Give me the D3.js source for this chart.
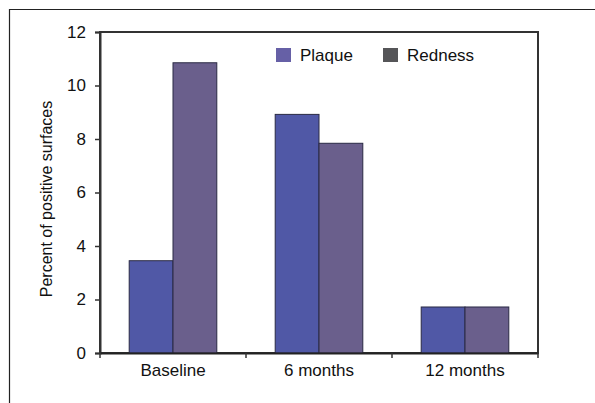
<!DOCTYPE html>
<html><head><meta charset="utf-8">
<script src="https://cdn.jsdelivr.net/npm/d3@7"></script>
<style>body{margin:0;background:#fff}svg{display:block}text{font-family:"Liberation Sans",Arial,sans-serif;fill:#111}</style>
</head><body>
<script>
const categories = ["Baseline", "6 months", "12 months"];
const seriesNames = ["Plaque", "Redness"];
const plaque = [3.45, 8.92, 1.72];
const redness = [10.85, 7.84, 1.72];
const yTicks = [0, 2, 4, 6, 8, 10, 12];

const W = 595, H = 403;
const m = {l: 100, r: 57, t: 32, b: 50};
const svg = d3.select("body").append("svg").attr("width", W).attr("height", H);

// outer frame
svg.append("path").attr("d", `M9.5,${H} L9.5,9.5 L${W},9.5`).attr("fill", "none").attr("stroke", "#222").attr("stroke-width", 1.2);

const x0 = d3.scaleBand().domain(categories).range([m.l, W - m.r]).paddingInner(0.4).paddingOuter(0.2);
const x1 = d3.scaleBand().domain(seriesNames).range([0, x0.bandwidth()]);
const y = d3.scaleLinear().domain([0, 12]).range([H - m.b, m.t]);
const colors = {Plaque: "#5058a6", Redness: "#6a5f8c"};
const legendColors = {Plaque: "#6660a6", Redness: "#555558"};

// plot frame (right & top)
svg.append("rect").attr("x", m.l).attr("y", m.t).attr("width", W - m.r - m.l).attr("height", H - m.b - m.t)
  .attr("fill", "none").attr("stroke", "#333").attr("stroke-width", 2);

const data = categories.map((c, i) => ({c, vals: [{s: "Plaque", v: plaque[i]}, {s: "Redness", v: redness[i]}]}));
const g = svg.append("g").selectAll("g").data(data).join("g").attr("transform", d => `translate(${x0(d.c)},0)`);
g.selectAll("rect").data(d => d.vals).join("rect")
  .attr("x", d => x1(d.s)).attr("width", x1.bandwidth())
  .attr("y", d => y(d.v)).attr("height", d => y(0) - y(d.v))
  .attr("fill", d => colors[d.s]).attr("stroke", "#2a2a44").attr("stroke-width", 1);

// y axis
const ya = svg.append("g").attr("transform", `translate(${m.l},0)`)
  .call(d3.axisLeft(y).tickValues(yTicks).tickSize(5).tickPadding(9));
ya.select(".domain").attr("stroke", "#333").attr("stroke-width", 2);
ya.selectAll("line").attr("stroke", "#333").attr("stroke-width", 1.5);
ya.selectAll("text").style("font-size", "17px").attr("fill", "#111");

// x axis
const xb = svg.append("g").attr("transform", `translate(0,${H - m.b})`)
  .call(d3.axisBottom(x0).tickSize(0).tickPadding(11));
xb.select(".domain").attr("stroke", "#222").attr("stroke-width", 2);
xb.selectAll("text").style("font-size", "17px").attr("fill", "#111");
// category boundary ticks
const bounds = [0, 1, 2, 3].map(i => m.l + i * (W - m.r - m.l) / 3);
svg.append("g").selectAll("line").data(bounds).join("line")
  .attr("x1", d => d).attr("x2", d => d).attr("y1", H - m.b).attr("y2", H - m.b + 5)
  .attr("stroke", "#333").attr("stroke-width", 1.5);

// y title
svg.append("text").attr("transform", `translate(52,199) rotate(-90)`)
  .attr("text-anchor", "middle").style("font-size", "16px").text("Percent of positive surfaces");

// legend
const lg = svg.append("g").selectAll("g").data(seriesNames).join("g")
  .attr("transform", (d, i) => `translate(${[276, 383][i]},48)`);
lg.append("rect").attr("width", 15).attr("height", 14).attr("fill", d => legendColors[d]);
lg.append("text").attr("x", 24).attr("y", 13).style("font-size", "17px").text(d => d);
</script>
</body></html>
